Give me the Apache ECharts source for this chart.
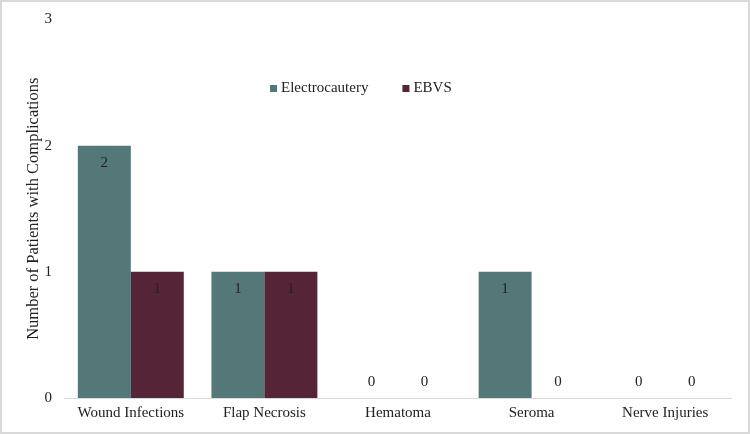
<!DOCTYPE html>
<html>
<head>
<meta charset="utf-8">
<script src="https://cdn.jsdelivr.net/npm/echarts@6/dist/echarts.min.js"></script>
<style>
  html, body { margin: 0; padding: 0; background: #fff; }
  #wrap {
    width: 750px; height: 434px; box-sizing: border-box;
    border: 2px solid #d9d9d9; background: #fff;
  }
  #chart { width: 746px; height: 430px; }
</style>
</head>
<body>
<div id="wrap"><div id="chart"></div></div>
<script>
// categories and counts
const categories = ['Wound Infections', 'Flap Necrosis', 'Hematoma', 'Seroma', 'Nerve Injuries'];
const electrocautery = [2, 1, 0, 1, 0];
const ebvs = [1, 1, 0, 0, 0];
const yTicks = [0, 1, 2, 3];

const serif = '"Liberation Serif", "Times New Roman", serif';

// zero bars get their label above the axis, others inside the top
const toItems = (arr) => arr.map((v) => ({
  value: v,
  label: v === 0
    ? { position: 'top', distance: 8 }
    : { position: 'insideTop', distance: 10 }
}));

const chart = echarts.init(document.getElementById('chart'));
chart.setOption({
  animation: false,
  textStyle: { fontFamily: serif },
  legend: {
    data: ['Electrocautery', 'EBVS'],
    left: 268,
    top: 79,
    padding: 0,
    itemWidth: 7,
    itemHeight: 7,
    itemGap: 34,
    icon: 'rect',
    textStyle: { fontFamily: serif, fontSize: 15, color: '#222', padding: [0, 0, 0, -1] }
  },
  grid: { left: 62, right: 16, top: 17.5, bottom: 34 },
  xAxis: {
    type: 'category',
    data: categories,
    axisLine: { lineStyle: { color: '#d9d9d9', width: 1 } },
    axisTick: { show: false },
    axisLabel: { fontFamily: serif, fontSize: 15, color: '#222', margin: 8, interval: 0 }
  },
  yAxis: {
    type: 'value',
    min: yTicks[0],
    max: yTicks[yTicks.length - 1],
    interval: 1,
    name: 'Number of Patients with Complications',
    nameLocation: 'middle',
    nameGap: 22,
    nameMoveOverlap: false,
    nameTextStyle: { fontFamily: serif, fontSize: 16.5, color: '#222' },
    axisLine: { show: false },
    axisTick: { show: false },
    splitLine: { show: false },
    axisLabel: { fontFamily: serif, fontSize: 15, color: '#222', margin: 12 }
  },
  series: [
    {
      name: 'Electrocautery',
      type: 'bar',
      data: toItems(electrocautery),
      itemStyle: { color: '#547778' },
      barGap: '0%',
      barCategoryGap: '20.7%',
      label: { show: true, fontFamily: serif, fontSize: 15, color: '#222' }
    },
    {
      name: 'EBVS',
      type: 'bar',
      data: toItems(ebvs),
      itemStyle: { color: '#562437' },
      barGap: '0%',
      barCategoryGap: '20.7%',
      label: { show: true, fontFamily: serif, fontSize: 15, color: '#222' }
    }
  ]
});
</script>
</body>
</html>
